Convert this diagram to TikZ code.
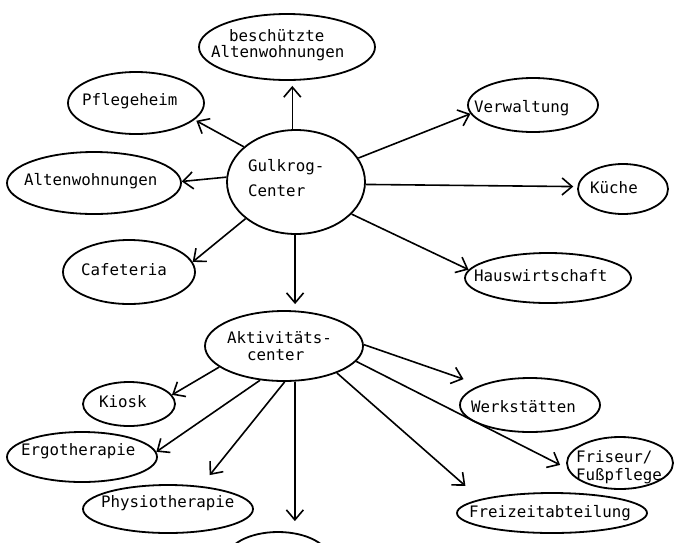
\documentclass[tikz,border=0pt]{standalone}
\usepackage{fontspec}
\newfontfamily\monofnt{DejaVu Sans Mono}
\usetikzlibrary{shapes.geometric,arrows.meta}
\begin{document}
\begin{tikzpicture}[x=1pt,y=-1pt,
  ell/.style={draw, ellipse, line width=1.8pt, inner sep=0pt},
  lbl/.style={anchor=base west, inner sep=0pt, font=\monofnt\fontsize{15.8pt}{18pt}\selectfont},
  arr/.style={line width=1.6pt, -{Straight Barb[length=10pt,width=17pt]}}]
\useasboundingbox[fill=white] (0,0) rectangle (675,542);

% ellipses
\node[ell, minimum width=176pt, minimum height=66pt] (b) at (287,47) {};
\node[ell, minimum width=136pt, minimum height=62pt] (p) at (136,103) {};
\node[ell, minimum width=130pt, minimum height=54pt] (v) at (533,105) {};
\node[ell, minimum width=138pt, minimum height=104pt] (g) at (296,182) {};
\node[ell, minimum width=174pt, minimum height=62pt] (a) at (94,183) {};
\node[ell, minimum width=90pt, minimum height=50pt] (k) at (623,189) {};
\node[ell, minimum width=132pt, minimum height=64pt] (c) at (129,272) {};
\node[ell, minimum width=166pt, minimum height=50pt] (h) at (548,278) {};
\node[ell, minimum width=158pt, minimum height=70pt] (ac) at (284,346) {};
\node[ell, minimum width=92pt, minimum height=44pt] (ki) at (129,404) {};
\node[ell, minimum width=150pt, minimum height=50pt] (e) at (82,457) {};
\node[ell, minimum width=170pt, minimum height=48pt] (ph) at (168,509) {};
\node[ell, minimum width=140pt, minimum height=54pt] (w) at (530,405) {};
\node[ell, minimum width=106pt, minimum height=52pt] (f) at (620,463) {};
\node[ell, minimum width=190pt, minimum height=40pt] (fr) at (552,513) {};
\begin{scope}
\clip (0,0) rectangle (675,542);
\node[ell, minimum width=104pt, minimum height=56pt] (bot) at (278,560) {};
\end{scope}

% texts
\node[lbl] (tb1) at (229,41) {beschützte};
\node[lbl] (tb2) at (211,57) {Altenwohnungen};
\node[lbl] (tp) at (82,105) {Pflegeheim};
\node[lbl] (tv) at (474,112) {Verwaltung};
\node[lbl] (tg1) at (248,171) {Gulkrog-};
\node[lbl] (tg2) at (248,196) {Center};
\node[lbl] (ta) at (24,185) {Altenwohnungen};
\node[lbl] (tk) at (590,193) {Küche};
\node[lbl] (tc) at (81,275) {Cafeteria};
\node[lbl] (th) at (474,281) {Hauswirtschaft};
\node[lbl] (tac1) at (227,343) {Aktivitäts-};
\node[lbl] (tac2) at (247,360) {center};
\node[lbl] (tki) at (99,407) {Kiosk};
\node[lbl] (te) at (21,455) {Ergotherapie};
\node[lbl] (tph) at (101,507) {Physiotherapie};
\node[lbl] (tw) at (471,412) {Werkstätten};
\node[lbl] (tf1) at (576,462) {Friseur/};
\node[lbl] (tf2) at (576,480) {Fußpflege};
\node[lbl] (tfr) at (469,517) {Freizeitabteilung};

% connectors
\draw[arr, shorten >=5pt] (g.94) -- (g.94 |- b.south);
\draw[arr, shorten >=2pt] (g.146) -- (p.-16);
\draw[arr] (g.21) -- (v.188);
\draw[arr] (g.176) -- (a.1);
\draw[arr, shorten >=4pt] (g.-2) -- (k.177);
\draw[arr] (g.216) -- (c.9);
\draw[arr] (g.-30) -- (h.174);
\draw[arr, shorten >=6pt] (g.-91) -- (g.-91 |- ac.north);
\draw[arr] (ac.198) -- (ki.12);
\draw[arr] (ac.235) -- (e.4);
\draw[arr, shorten >=14pt] (ac.-89) -- (ph.35);
\draw[arr, shorten >=10pt] (ac.-73) -- (ac.-73 |- bot.north);
\draw[arr, shorten >=18pt] (ac.1) -- (w.158);
\draw[arr, shorten >=8pt] (ac.-12) -- (f.186);
\draw[arr, shorten >=20pt] (ac.-27) -- (fr.169);
\end{tikzpicture}
\end{document}
